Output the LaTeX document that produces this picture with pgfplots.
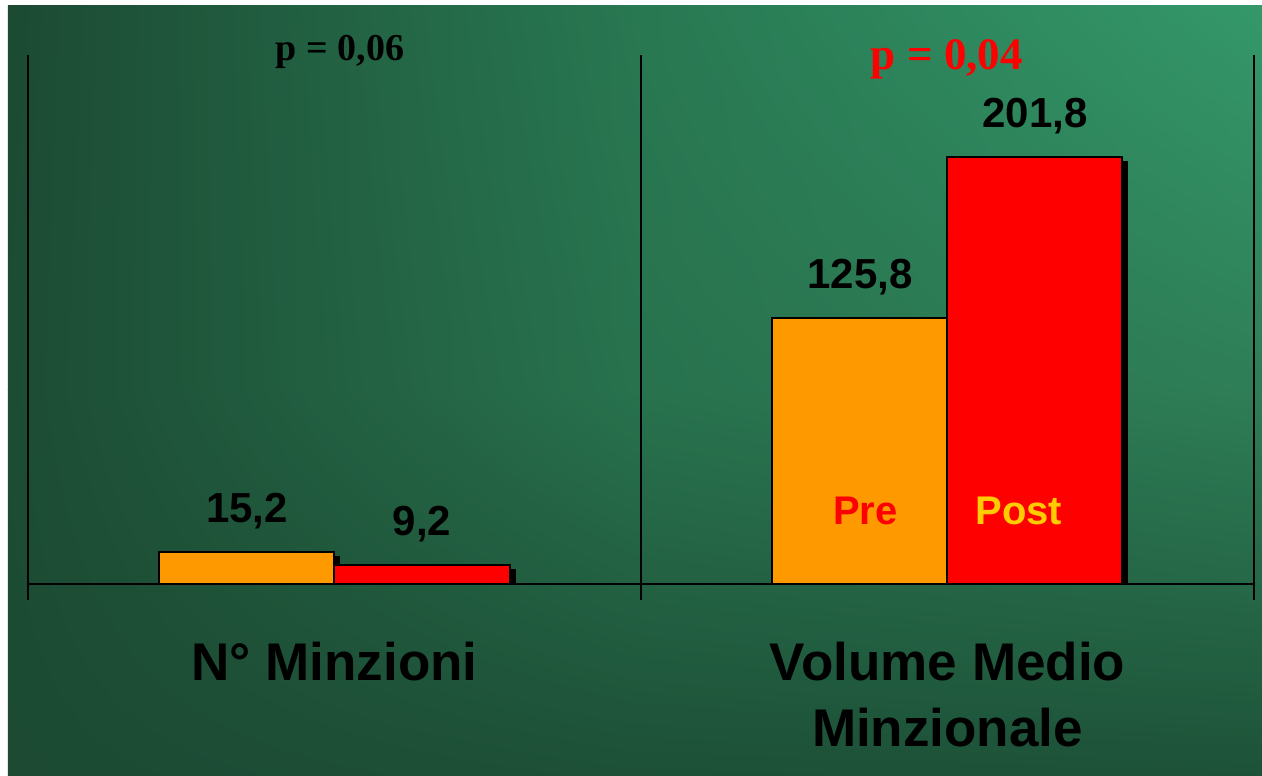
\documentclass[border=0pt]{standalone}
\usepackage{pgfplots}
\pgfplotsset{compat=1.18}
\usetikzlibrary{shadings}
\usepackage{fontspec}
\setmainfont{Liberation Sans}
\newfontfamily\serifb{Liberation Serif}
\definecolor{barorange}{RGB}{255,153,0}
\definecolor{barred}{RGB}{255,0,0}
\definecolor{postyellow}{RGB}{255,204,0}
\definecolor{gA}{RGB}{28,74,51}
\definecolor{gB}{RGB}{40,120,82}
\definecolor{gC}{RGB}{52,152,106}
\definecolor{gD}{RGB}{28,76,52}
\definecolor{gE}{RGB}{40,114,78}
\definecolor{gF}{RGB}{46,126,87}
\definecolor{gG}{RGB}{28,74,51}
\definecolor{gH}{RGB}{29,80,55}
\definecolor{gI}{RGB}{29,82,56}
\begin{document}
\begin{tikzpicture}
\fill[white] (-28pt,-192pt) rectangle (1234pt,584pt);
\shade[upper left=gA, upper right=gB, lower left=gD, lower right=gE] (-20pt,194pt) rectangle (607.5pt,578pt);
\shade[upper left=gB, upper right=gC, lower left=gE, lower right=gF] (606.5pt,194pt) rectangle (1234pt,578pt);
\shade[upper left=gD, upper right=gE, lower left=gG, lower right=gH] (-20pt,-192pt) rectangle (607.5pt,194.5pt);
\shade[upper left=gE, upper right=gF, lower left=gH, lower right=gI] (606.5pt,-192pt) rectangle (1234pt,194.5pt);
\begin{axis}[
  at={(0pt,0pt)}, anchor=south west,
  scale only axis, width=1226pt, height=529pt,
  xmin=0, xmax=2, ymin=0, ymax=250,
  axis line style={draw=none},
  tick style={draw=none},
  major tick length=0pt,
  ytick=\empty,
  xtick={0.5,1.5},
  xticklabels={N° Minzioni,{Volume Medio\\Minzionale}},
  xticklabel style={align=center, font=\bfseries\fontsize{53}{66}\selectfont, inner sep=0pt, anchor=north, yshift=-58pt},
  ybar, bar width=175pt,
  clip mode=individual,
  nodes near coords,
  every node near coord/.append style={font=\bfseries\fontsize{42}{42}\selectfont, text=black, inner sep=0pt, yshift=22pt},
  /pgf/number format/use comma,
  /pgf/number format/fixed,
  /pgf/number format/fixed zerofill,
  /pgf/number format/precision=1,
  /pgf/number format/assume math mode=true,
]
\addplot[fill=barorange, draw=black, line width=2pt, bar shift=-87.5pt,
  preaction={fill=black, transform canvas={xshift=5pt,yshift=-5pt}}]
  coordinates {(0.5,15.2) (1.5,125.8)};
\addplot[fill=barred, draw=black, line width=2pt, bar shift=87.5pt,
  preaction={fill=black, transform canvas={xshift=5pt,yshift=-5pt}}]
  coordinates {(0.5,9.2) (1.5,201.8)};
\draw[line width=2pt] (axis cs:0,0) -- (axis cs:2,0);
\draw[line width=2pt] ([yshift=-16pt]axis cs:0,0) -- (axis cs:0,250);
\draw[line width=2pt] ([yshift=-16pt]axis cs:1,0) -- (axis cs:1,250);
\draw[line width=2pt] ([yshift=-16pt]axis cs:2,0) -- (axis cs:2,250);
\node[anchor=base, inner sep=0pt, text=black, font=\serifb\bfseries\fontsize{38}{38}\selectfont] at (axis cs:0.509,247.2) {p = 0,06};
\node[anchor=base, inner sep=0pt, text=barred, font=\serifb\bfseries\fontsize{45}{45}\selectfont] at (axis cs:1.499,243) {p = 0,04};
\node[anchor=base, inner sep=0pt, text=barred, font=\bfseries\fontsize{40}{40}\selectfont] at (axis cs:1.366,27.9) {Pre};
\node[anchor=base, inner sep=0pt, text=postyellow, font=\bfseries\fontsize{40}{40}\selectfont] at (axis cs:1.6166,27.9) {Post};
\end{axis}
\pgfresetboundingbox
\path (-28pt,-192pt) rectangle (1234pt,584pt);
\end{tikzpicture}
\end{document}
